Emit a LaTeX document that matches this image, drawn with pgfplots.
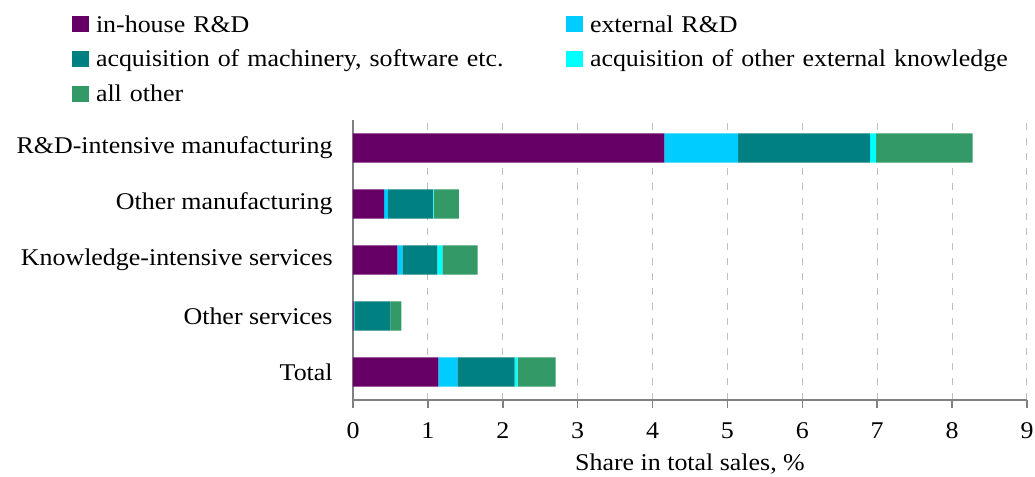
\documentclass[border=0pt]{standalone}
\usepackage{pgfplots}
\pgfplotsset{compat=1.18}
\usepackage{fontspec}
\setmainfont{Liberation Serif}[FakeStretch=1.08]
\definecolor{cInhouse}{HTML}{660066}
\definecolor{cExternal}{HTML}{00CCFF}
\definecolor{cMach}{HTML}{008080}
\definecolor{cOtherK}{HTML}{00FFFF}
\definecolor{cAllOther}{HTML}{339966}
\begin{document}
\fontsize{12}{14.4}\selectfont
\begin{tikzpicture}
\useasboundingbox (0,0) rectangle (517.5pt,238.5pt);
\begin{axis}[
  at={(176.5pt,38.5pt)}, anchor=south west,
  scale only axis, width=337pt, height=140pt,
  xbar stacked, bar width=0.52,
  legend image code/.code={\fill[#1] (0pt,-3pt) rectangle (8.5pt,5pt); \path (12pt,0pt);},
  xmin=0, xmax=9, ymin=-0.5, ymax=4.5,
  xtick={0,1,2,3,4,5,6,7,8,9},
  ytick={0,1,2,3,4},
  yticklabels={Total, Other services, Knowledge-intensive services, Other manufacturing, R\&D-intensive manufacturing},
  axis x line*=bottom, axis y line*=left,
  axis line style={draw=gray, line width=0.75pt, -},
  tick align=outside, major tick length=4pt,
  x tick style={draw=gray, line width=0.75pt},
  y tick style={draw=none},
  xmajorgrids,
  major grid style={dash pattern=on 3.3pt off 4.2pt, draw=gray!50, line width=0.5pt},
  /pgf/number format/assume math mode=true,
  xticklabel style={anchor=base, inner sep=0pt, yshift=-15.5pt},
  yticklabel style={anchor=east, inner sep=0pt, xshift=-6pt},
  xlabel={Share in total sales, \%},
  xlabel style={at={(axis description cs:0.5,0)}, anchor=base, yshift=-35pt, inner sep=0pt},
  legend columns=2,
  legend style={at={(axis description cs:-0.4169,1.3775)}, anchor=north west,
    draw=none, fill=none, inner sep=0pt, outer sep=0pt,
    /tikz/column sep=0pt, /tikz/row sep=5.35pt,
    nodes={inner sep=0pt, text height=9pt, text depth=3pt, text width=235pt, align=left}},
  legend cell align=left,
]
\addplot[fill=cInhouse, draw=none] coordinates {(1.141,0) (0.010,1) (0.593,2) (0.415,3) (4.157,4)};
\addplot[fill=cExternal, draw=none] coordinates {(0.254,0) (0.008,1) (0.067,2) (0.050,3) (0.987,4)};
\addplot[fill=cMach, draw=none] coordinates {(0.762,0) (0.481,1) (0.468,2) (0.600,3) (1.761,4)};
\addplot[fill=cOtherK, draw=none] coordinates {(0.040,0) (0.000,1) (0.067,2) (0.011,3) (0.079,4)};
\addplot[fill=cAllOther, draw=none] coordinates {(0.508,0) (0.147,1) (0.468,2) (0.337,3) (1.290,4)};
\legend{in-house R\&D, external R\&D, {acquisition of machinery, software etc.}, acquisition of other external knowledge, all other}
\end{axis}
\end{tikzpicture}
\end{document}
